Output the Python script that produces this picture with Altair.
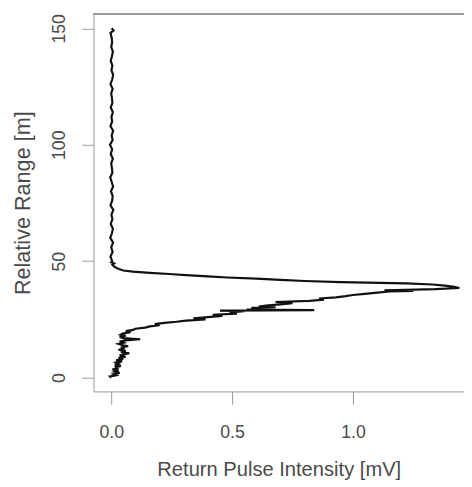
import altair as alt
import pandas as pd

# Relative range [m] and return pulse intensity [mV]
range_m = [
    0.0, 0.5, 1.0, 1.5, 2.0, 2.5, 3.0, 3.5, 4.0, 4.5, 5.0, 5.5, 6.0, 6.5, 7.0, 7.5,
    8.0, 8.5, 9.0, 9.5, 10.0, 10.5, 11.0, 11.5, 12.0, 12.5, 13.0, 13.5, 14.0, 14.5,
    15.0, 15.5, 16.0, 16.5, 17.0, 17.5, 18.0, 18.5, 19.0, 19.5, 20.0,
    20.5, 21.0, 21.5, 22.0, 22.5, 23.0, 23.5, 24.0, 24.5, 25.0, 25.5, 26.0, 26.5,
    27.0, 27.5, 28.0, 28.5, 28.75, 29.0, 29.25, 29.5, 30.0, 30.25, 30.5, 31.0, 31.5,
    32.0, 32.5, 33.0, 33.5, 34.0, 34.5, 35.0, 35.5, 36.0, 36.5, 37.0, 37.25, 37.5,
    38.0, 38.5, 39.0, 39.5, 40.0, 40.5, 41.0, 41.5, 42.0, 42.5, 43.0, 43.5, 44.0,
    44.5, 45.0, 45.5, 46.0, 46.5, 47.0, 47.5, 48.0, 48.5, 49.0, 49.5,
    50, 52, 54, 56, 58, 60, 62, 64, 66, 68, 70, 72, 74, 76, 78, 80, 82, 84, 86, 88,
    90, 92, 94, 96, 98, 100, 102, 104, 106, 108, 110, 112, 114, 116, 118, 120, 122,
    124, 126, 128, 130, 132, 134, 136, 138, 140, 142, 144, 146, 148, 149, 150,
]
intensity_mv = [
    0.000, -0.005, 0.020, 0.010, 0.035, 0.015, 0.030, 0.005, 0.025, 0.020, 0.040,
    0.015, 0.030, 0.020, 0.045, 0.020, 0.050, 0.030, 0.060, 0.035, 0.050, 0.075,
    0.040, 0.060, 0.030, 0.055, 0.040, 0.070, 0.045, 0.030, 0.050, 0.035, 0.060,
    0.120, 0.050, 0.035, 0.060, 0.040, 0.050, 0.080, 0.060,
    0.090, 0.100, 0.140, 0.160, 0.200, 0.180, 0.220, 0.270, 0.310, 0.390, 0.340,
    0.400, 0.460, 0.420, 0.520, 0.490, 0.550, 0.450, 0.840, 0.560, 0.600, 0.580,
    0.680, 0.610, 0.640, 0.700, 0.750, 0.680, 0.820, 0.880, 0.860, 0.930, 0.970,
    1.000, 1.050, 1.100, 1.150, 1.250, 1.130, 1.340, 1.440, 1.420, 1.380, 1.330,
    1.220, 0.950, 0.800, 0.700, 0.600, 0.480, 0.400, 0.310, 0.240, 0.160, 0.090,
    0.050, 0.035, 0.025, 0.015, 0.010, 0.005, 0.012, 0.000,
    0.004, -0.003, 0.006, 0.000, 0.008, -0.004, 0.003, 0.007, -0.002, 0.005,
    0.001, 0.009, -0.003, 0.004, 0.006, -0.001, 0.008, 0.002, -0.004, 0.005,
    0.003, 0.000, 0.007, -0.002, 0.004, -0.005, 0.006, 0.002, 0.008, -0.003,
    0.004, 0.001, 0.007, -0.002, 0.005, 0.003, 0.000, 0.006, -0.003, 0.004,
    0.008, 0.001, 0.005, -0.002, 0.003, 0.007, 0.000, 0.004, 0.002, -0.003,
    0.010, 0.002,
]

x_ticks = [0.0, 0.5, 1.0]
y_ticks = [0, 50, 100, 150]

df = pd.DataFrame({"range": range_m, "intensity": intensity_mv})

W, H = 377, 384
FONT = "Liberation Sans"
GRAY = "#9a9a9a"
TXT = "#4a4a4a"

line = alt.Chart(df).mark_line(color="#111111", strokeWidth=2.2).encode(
    x=alt.X(
        "intensity:Q",
        scale=alt.Scale(domain=[-0.0732, 1.4593], nice=False, zero=False),
        axis=alt.Axis(
            values=x_ticks, format=".1f", title="Return Pulse Intensity [mV]",
            grid=False, domain=True, domainColor=GRAY, tickColor=GRAY,
            tickSize=13, labelPadding=20, labelFontSize=18, labelColor=TXT,
            labelFont=FONT, titleFont=FONT, titleFontSize=20.5, titleColor=TXT,
            titleFontWeight="normal", titlePadding=19,
        ),
    ),
    y=alt.Y(
        "range:Q",
        scale=alt.Scale(domain=[-5.91, 156.12], nice=False, zero=False),
        axis=alt.Axis(
            values=y_ticks, title="Relative Range [m]", grid=False,
            domain=True, domainColor=GRAY, tickColor=GRAY, tickSize=12,
            labelAngle=270, labelAlign="center", labelBaseline="bottom",
            labelPadding=13, labelFontSize=18, labelColor=TXT, labelFont=FONT,
            titleFont=FONT, titleFontSize=22, titleColor=TXT,
            titleFontWeight="normal", titlePadding=17,
        ),
    ),
    order="range:Q",
)

top = alt.Chart(df).mark_rule(color=GRAY, strokeWidth=1).encode(
    x=alt.value(0), x2=alt.value(W), y=alt.value(0)
)

chart = (
    alt.layer(line, top)
    .properties(
        width=W, height=H,
        autosize=alt.AutoSizeParams(type="none"),
        padding={"left": 87, "top": 2, "right": 0, "bottom": 88},
        background="white",
    )
    .configure_view(stroke=None)
)

chart.save("out.html", embed_options={"renderer": "svg", "actions": False})
